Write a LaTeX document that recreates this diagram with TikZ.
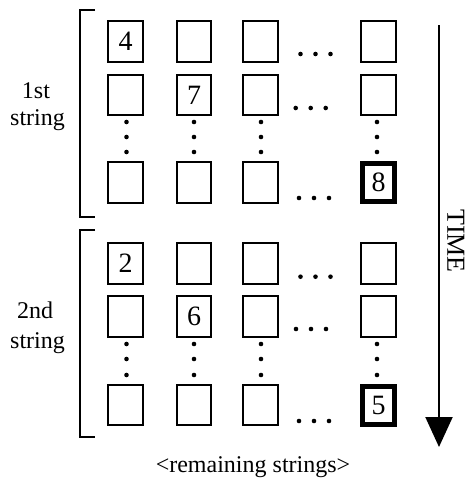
\documentclass[tikz,border=0pt]{standalone}
\usepackage{fontspec}
\setmainfont{Liberation Serif}
\usetikzlibrary{arrows.meta}
\begin{document}
\begin{tikzpicture}[x=1pt,y=-1pt,
  cell/.style={draw, line width=2.3pt, minimum width=34.5pt, minimum height=40.5pt,
    inner sep=0pt, font=\fontsize{28}{28}\selectfont},
  hotcell/.style={cell, line width=5pt, minimum width=32pt, minimum height=38pt},
  lbl/.style={font=\fontsize{24}{24}\selectfont, inner sep=0pt, anchor=base},
  bracket/.style={line width=2.3pt},
  dotmark/.style={fill=black}]
\useasboundingbox (0,0) rectangle (467,480);

% first string
\node[cell] (a11) at (125.5,41.5) {4};
\node[cell] (a12) at (194,41.5) {};
\node[cell] (a13) at (260.5,41.5) {};
\node[cell] (a14) at (378.5,41.5) {};
\node[cell] (a21) at (125.5,95) {};
\node[cell] (a22) at (194,95) {7};
\node[cell] (a23) at (260.5,95) {};
\node[cell] (a24) at (378.5,95) {};
\node[cell] (a31) at (125.5,182.5) {};
\node[cell] (a32) at (194,182.5) {};
\node[cell] (a33) at (260.5,182.5) {};
\node[hotcell] (a34) at (378.5,182.5) {8};

% second string
\node[cell] (b11) at (125.5,263.5) {2};
\node[cell] (b12) at (194,263.5) {};
\node[cell] (b13) at (260.5,263.5) {};
\node[cell] (b14) at (378.5,263.5) {};
\node[cell] (b21) at (125.5,316.5) {};
\node[cell] (b22) at (194,316.5) {6};
\node[cell] (b23) at (260.5,316.5) {};
\node[cell] (b24) at (378.5,316.5) {};
\node[cell] (b31) at (125.5,405) {};
\node[cell] (b32) at (194,405) {};
\node[cell] (b33) at (260.5,405) {};
\node[hotcell] (b34) at (378.5,405) {5};

% horizontal ellipses between third and last column
\foreach \xc/\yc in {315.5/54, 310.7/108, 314/198, 315.5/276.7, 311/329, 314/421} {
  \foreach \dx in {-15,0,15}
    \fill[dotmark] (\xc+\dx,\yc) circle (2.3pt);
}

% vertical ellipses under the second row
\foreach \xc in {126.5,194,261,377} {
  \foreach \yc in {122,137,152,344,359,375}
    \fill[dotmark] (\xc,\yc) circle (2.3pt);
}

% brackets grouping the strings
\draw[bracket] (95,10) -- (80,10) -- (80,217) -- (95,217);
\draw[bracket] (95,230) -- (80,230) -- (80,437) -- (95,437);

% labels
\node[lbl] (l1a) at (36,98) {1st};
\node[lbl] (l1b) at (37.5,125) {string};
\node[lbl] (l2a) at (35,318) {2nd};
\node[lbl] (l2b) at (37.5,348) {string};
\node[lbl] (rest) at (253,472) {<remaining strings>};

% time axis
\coordinate (tstart) at (439,25);
\coordinate (tend) at (439,447);
\draw[line width=2pt, -{Triangle[width=27pt,length=30pt]}] (tstart) -- (tend);
\node[rotate=-90, font=\fontsize{26}{26}\selectfont, inner sep=0pt] (time) at (456,241) {TIME};
\end{tikzpicture}
\end{document}
